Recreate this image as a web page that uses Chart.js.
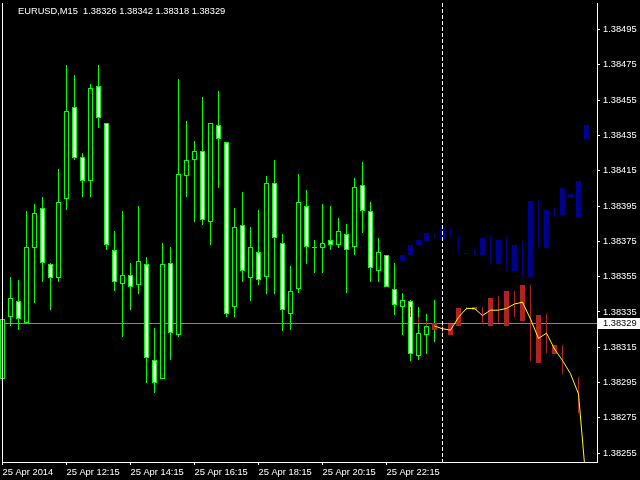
<!DOCTYPE html>
<html>
<head>
<meta charset="utf-8">
<script src="https://cdn.jsdelivr.net/npm/chart.js@4.4.1/dist/chart.umd.min.js"></script>
<style>
  html, body { margin: 0; padding: 0; background: #000; }
  canvas { display: block; }
</style>
</head>
<body>
<canvas id="chart" width="640" height="480"></canvas>
<script>
// EURUSD M15, bar 0 = 25 Apr 10:15, one bar every 15 minutes
const opens  = [1.38297, 1.38332, 1.38341, 1.38329, 1.38371, 1.38394, 1.38362, 1.38354, 1.38399, 1.38451,
                1.38423, 1.38409, 1.38463, 1.38442, 1.38370, 1.38351, 1.38356, 1.38350, 1.38362, 1.38308,
                1.38297, 1.38363, 1.38322, 1.38412, 1.38421, 1.38426, 1.38386, 1.38441, 1.38431, 1.38338,
                1.38384, 1.38354, 1.38369, 1.38355, 1.38408, 1.38374, 1.38334, 1.38348, 1.38395, 1.38371,
                1.38371, 1.38376, 1.38373, 1.38379, 1.38372, 1.38407, 1.38392, 1.38358, 1.38367, 1.38348,
                1.38338, 1.38341, 1.38310, 1.38322, 1.38326];
const highs  = [1.38356, 1.38355, 1.38353, 1.38392, 1.38396, 1.38400, 1.38363, 1.38416, 1.38475, 1.38469,
                1.38425, 1.38464, 1.38475, 1.38442, 1.38381, 1.38392, 1.38363, 1.38395, 1.38366, 1.38326,
                1.38374, 1.38372, 1.38467, 1.38443, 1.38432, 1.38457, 1.38442, 1.38460, 1.38431, 1.38394,
                1.38403, 1.38383, 1.38393, 1.38412, 1.38421, 1.38379, 1.38361, 1.38413, 1.38404, 1.38376,
                1.38396, 1.38395, 1.38388, 1.38385, 1.38411, 1.38420, 1.38397, 1.38377, 1.38367, 1.38363,
                1.38346, 1.38342, 1.38338, 1.38334, 1.38342];
const lows   = [1.38297, 1.38327, 1.38325, 1.38328, 1.38340, 1.38352, 1.38336, 1.38352, 1.38393, 1.38421,
                1.38400, 1.38400, 1.38439, 1.38370, 1.38347, 1.38321, 1.38336, 1.38345, 1.38295, 1.38289,
                1.38297, 1.38308, 1.38321, 1.38400, 1.38386, 1.38384, 1.38373, 1.38405, 1.38332, 1.38332,
                1.38352, 1.38341, 1.38350, 1.38345, 1.38345, 1.38324, 1.38325, 1.38346, 1.38362, 1.38357,
                1.38357, 1.38370, 1.38371, 1.38346, 1.38367, 1.38380, 1.38352, 1.38352, 1.38349, 1.38333,
                1.38322, 1.38307, 1.38308, 1.38311, 1.38318];
const closes = [1.38331, 1.38343, 1.38331, 1.38372, 1.38391, 1.38363, 1.38354, 1.38397, 1.38449, 1.38422,
                1.38409, 1.38462, 1.38445, 1.38373, 1.38352, 1.38356, 1.38349, 1.38364, 1.38309, 1.38295,
                1.38362, 1.38323, 1.38413, 1.38421, 1.38426, 1.38387, 1.38442, 1.38433, 1.38334, 1.38383,
                1.38358, 1.38372, 1.38353, 1.38408, 1.38377, 1.38336, 1.38347, 1.38397, 1.38372, 1.38371,
                1.38374, 1.38373, 1.38381, 1.38370, 1.38406, 1.38392, 1.38360, 1.38369, 1.38349, 1.38339,
                1.38342, 1.38311, 1.38323, 1.38327, 1.38329];

// forecast indicator, bars 50..73
const fcStart = 50;
const blueBodyLo   = [1.38364, 1.38367, 1.38373, 1.38375, null, 1.38376, null, null, 1.38368, null,
                      1.38367, null, 1.38362, null, 1.38358, null, 1.38355, null, 1.38371, null,
                      1.38390, 1.38400, 1.38388, 1.38433];
const blueBodyHi   = [1.38367, 1.38373, 1.38376, 1.38380, null, 1.38383, null, null, 1.38368, null,
                      1.38377, null, 1.38376, null, 1.38373, null, 1.38398, null, 1.38393, null,
                      1.38405, 1.38402, 1.38409, 1.38441];
const blueShadowLo = [null, null, null, null, 1.38377, null, 1.38377, 1.38368, null, 1.38367,
                      null, 1.38362, null, 1.38358, null, 1.38355, null, 1.38372, null, 1.38389,
                      null, null, null, null];
const blueShadowHi = [null, null, null, null, 1.38380, null, 1.38383, 1.38378, null, 1.38370,
                      null, 1.38378, null, 1.38378, null, 1.38375, null, 1.38399, null, 1.38394,
                      null, null, null, null];
const redBodyLo    = [null, null, null, null, 1.38325, null, 1.38322, 1.38327, null, 1.38336,
                      null, 1.38327, null, 1.38327, null, 1.38330, null, 1.38306, null, 1.38311,
                      null, null, null, null];
const redBodyHi    = [null, null, null, null, 1.38329, null, 1.38328, 1.38337, null, 1.38338,
                      null, 1.38343, null, 1.38347, null, 1.38350, null, 1.38333, null, 1.38316,
                      null, null, null, null];
const redShadowLo  = [null, 1.38332, 1.38329, 1.38327, null, 1.38322, null, null, 1.38336, null,
                      1.38328, null, 1.38329, null, 1.38332, null, 1.38307, null, 1.38312, null,
                      1.38300, null, 1.38278, null];
const redShadowHi  = [null, 1.38338, 1.38332, 1.38330, null, 1.38330, null, null, 1.38338, null,
                      1.38338, null, 1.38344, null, 1.38347, null, 1.38350, null, 1.38334, null,
                      1.38316, null, 1.38298, null];
const lineStart = 54;
const forecastLine = [1.38327, 1.383255, 1.383247, 1.38332, 1.38337, 1.38337, 1.38333, 1.38336, 1.38336, 1.38337,
                      1.383395, 1.383405, 1.38331, 1.38320, 1.38323, 1.38314, 1.383075, 1.38300, 1.382885, 1.38236];
const separatorBar = 55;

// axis labels
const dateTickBars = [0, 8, 16, 24, 32, 40, 48];
const dateLabels = ['25 Apr 2014', '25 Apr 12:15', '25 Apr 14:15', '25 Apr 16:15',
                    '25 Apr 18:15', '25 Apr 20:15', '25 Apr 22:15'];
const priceTicks = [1.38255, 1.38275, 1.38295, 1.38315, 1.38335, 1.38355, 1.38375,
                    1.38395, 1.38415, 1.38435, 1.38455, 1.38475, 1.38495];

const FONT = '"Liberation Sans", Arial, sans-serif';
const last = opens.length - 1;

function pairs(lo, hi, start) {
    const out = [];
    lo.forEach((v, i) => {
        if (v !== null) out.push({ x: start + i, y: [v, hi[i]] });
    });
    return out;
}

const wicks = lows.map((l, i) => ({ x: i, y: [l, highs[i]] }));
const bodies = opens.map((o, i) => ({ x: i, y: [Math.min(o, closes[i]), Math.max(o, closes[i])] }));
const bodyFill = opens.map((o, i) => closes[i] > o ? '#000000' : '#ffffff');

const barBase = { type: 'bar', grouped: false, inflateAmount: 0, borderSkipped: false, minBarLength: 1 };

// paint the bar elements Chart.js laid out, snapped to whole pixels like MT4
const crispBars = {
    id: 'crispBars',
    beforeDatasetDraw(chart, args) {
        const meta = args.meta;
        if (meta.type !== 'bar') return;
        const ctx = chart.ctx;
        ctx.save();
        meta.data.forEach(el => {
            const o = el.options;
            const left = Math.round(el.x - el.width / 2);
            const w = Math.max(1, Math.round(el.width));
            const top = Math.round(Math.min(el.y, el.base));
            const h = Math.max(1, Math.round(Math.max(el.y, el.base)) - top);
            const bw = o.borderWidth || 0;
            if (bw > 0) {
                ctx.fillStyle = o.borderColor;
                ctx.fillRect(left, top, w, h);
                if (w > 2 * bw && h > 2 * bw) {
                    ctx.fillStyle = o.backgroundColor;
                    ctx.fillRect(left + bw, top + bw, w - 2 * bw, h - 2 * bw);
                }
            } else {
                ctx.fillStyle = o.backgroundColor;
                ctx.fillRect(left, top, w, h);
            }
        });
        ctx.restore();
        return false;
    }
};

const overlay = {
    id: 'overlay',
    beforeDatasetsDraw(chart) {
        const { ctx, chartArea: a, scales } = chart;
        const y = Math.round(scales.y.getPixelForValue(closes[last])) + 0.5;
        ctx.save();
        ctx.strokeStyle = '#778899';
        ctx.lineWidth = 1;
        ctx.beginPath();
        ctx.moveTo(a.left, y);
        ctx.lineTo(a.right, y);
        ctx.stroke();
        ctx.restore();
    },
    afterDatasetsDraw(chart) {
        const { ctx, chartArea: a, scales } = chart;
        ctx.save();
        // separator between history and forecast
        const x = Math.floor(scales.x.getPixelForValue(separatorBar)) + 0.5;
        ctx.strokeStyle = '#ffffff';
        ctx.lineWidth = 1;
        ctx.setLineDash([4, 2]);
        ctx.beginPath();
        ctx.moveTo(x, a.top);
        ctx.lineTo(x, a.bottom);
        ctx.stroke();
        ctx.setLineDash([]);
        // left frame
        ctx.beginPath();
        ctx.moveTo(a.left + 0.5, a.top);
        ctx.lineTo(a.left + 0.5, a.bottom);
        ctx.stroke();
        ctx.restore();
    },
    afterDraw(chart) {
        const { ctx, scales } = chart;
        ctx.save();
        ctx.font = '9.3px ' + FONT;
        ctx.textBaseline = 'middle';
        ctx.fillStyle = '#ffffff';
        const f = v => v.toFixed(5);
        ctx.fillText('EURUSD,M15  ' + [opens[last], highs[last], lows[last], closes[last]].map(f).join(' '), 18, 11);
        // current price label
        const y = Math.round(scales.y.getPixelForValue(closes[last]));
        ctx.fillRect(598, y - 5, 42, 11);
        ctx.fillStyle = '#000000';
        ctx.fillText(f(closes[last]), 603, y + 0.5);
        ctx.restore();
    }
};

new Chart(document.getElementById('chart'), {
    type: 'bar',
    data: {
        datasets: [
            { ...barBase, data: wicks, barThickness: 1, backgroundColor: '#00ff00', borderWidth: 0, order: 6 },
            { ...barBase, data: bodies, barThickness: 5, backgroundColor: bodyFill, borderColor: '#00ff00', borderWidth: 1, order: 5 },
            { ...barBase, data: pairs(blueShadowLo, blueShadowHi, fcStart), barThickness: 1, backgroundColor: '#00008b', borderWidth: 0, order: 4 },
            { ...barBase, data: pairs(blueBodyLo, blueBodyHi, fcStart), barThickness: 5, backgroundColor: '#00008b', borderWidth: 0, order: 4 },
            { ...barBase, data: pairs(redShadowLo, redShadowHi, fcStart), barThickness: 1, backgroundColor: '#b22222', borderWidth: 0, order: 3 },
            { ...barBase, data: pairs(redBodyLo, redBodyHi, fcStart), barThickness: 5, backgroundColor: '#b22222', borderWidth: 0, order: 3 },
            {
                type: 'line',
                data: forecastLine.map((v, i) => ({ x: lineStart + i, y: v })),
                borderColor: '#ffff00',
                borderWidth: 1,
                pointRadius: 0,
                tension: 0,
                order: 1
            }
        ]
    },
    options: {
        responsive: false,
        animation: false,
        devicePixelRatio: 1,
        layout: { padding: { left: 2, top: 3, right: 0, bottom: 0 } },
        plugins: { legend: { display: false }, tooltip: { enabled: false } },
        scales: {
            x: {
                type: 'linear',
                min: -0.0625,
                max: 74.3125,
                offset: false,
                grid: { offset: false, drawOnChartArea: false, color: '#ffffff', tickLength: 3 },
                border: { color: '#ffffff', width: 1 },
                afterBuildTicks: s => { s.ticks = dateTickBars.map(v => ({ value: v })); },
                afterFit: s => { s.height = 18; s.paddingLeft = 0; s.paddingRight = 0; },
                ticks: {
                    autoSkip: false,
                    maxRotation: 0,
                    align: 'start',
                    padding: 2,
                    color: '#ffffff',
                    font: { family: FONT, size: 9.3 },
                    callback: (v, i) => dateLabels[i]
                }
            },
            y: {
                position: 'right',
                min: 1.3825,
                max: 1.3851,
                grid: { drawOnChartArea: false, color: '#ffffff', tickLength: 3 },
                border: { color: '#ffffff', width: 1 },
                afterBuildTicks: s => { s.ticks = priceTicks.map(v => ({ value: v })); },
                afterFit: s => { s.width = 43; s.paddingTop = 0; s.paddingBottom = 0; },
                ticks: {
                    padding: 3,
                    color: '#ffffff',
                    font: { family: FONT, size: 9.3 },
                    callback: v => v.toFixed(5)
                }
            }
        }
    },
    plugins: [crispBars, overlay]
});
</script>
</body>
</html>
